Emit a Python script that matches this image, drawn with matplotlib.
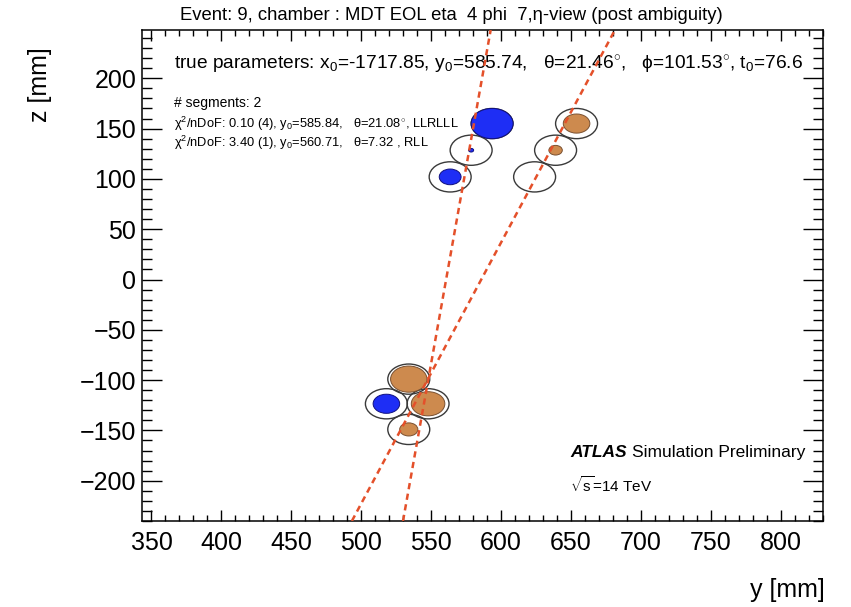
import matplotlib
matplotlib.use('Agg')
import matplotlib.pyplot as plt
from matplotlib.patches import Circle
from matplotlib.ticker import MultipleLocator
import numpy as np

plt.rcParams['font.family'] = ['Liberation Sans', 'DejaVu Sans']
plt.rcParams['mathtext.fontset'] = 'custom'
plt.rcParams['mathtext.rm'] = 'Liberation Sans'
plt.rcParams['mathtext.it'] = 'Liberation Sans:italic'
plt.rcParams['mathtext.bf'] = 'Liberation Sans:bold'

# MDT tube centres (y, z) in mm
tube_y = [563.6, 578.6, 593.6, 624.0, 639.0, 654.0, 518.0, 547.8, 534.0, 534.0]
tube_z = [102.0, 128.5, 155.0, 102.0, 128.5, 155.0, -123.5, -123.5, -99.0, -149.0]
# drift radii of the hits (0 = empty tube)
drift_r = [7.8, 1.8, 15.0, 0.0, 4.8, 9.5, 9.5, 12.0, 13.0, 6.5]
hit_kind = ['b', 'b', 'b', 'o', 'o', 'o', 'b', 'o', 'o', 'o']

# fitted segments
seg_y0 = [585.84, 560.71]
seg_theta = [21.08, 7.32]

xlim = (343, 830)
ylim = (-240, 248)

fig = plt.figure(figsize=(8.51, 6.07), dpi=100)
ax = fig.add_axes([0.1665, 0.1417, 0.8002, 0.8089])

colors = {'b': '#1e2ef5', 'o': '#cd8a4e'}
edges = {'b': '#101080', 'o': '#7a5030'}

for y, z, r, k in zip(tube_y, tube_z, drift_r, hit_kind):
    ax.add_patch(Circle((y, z), 15.0, fill=False, ec='#3a3a3a', lw=1.0, zorder=2))
    if r > 0:
        ax.add_patch(Circle((y, z), r, fc=colors[k], ec=edges[k], lw=0.7, zorder=3))

zz = np.array(ylim)
for y0, th in zip(seg_y0, seg_theta):
    ax.plot(y0 + np.tan(np.radians(th)) * zz, zz, color='#e4502a', lw=1.8,
            dashes=(2.5, 1.8), zorder=4)

ax.set_xlim(*xlim)
ax.set_ylim(*ylim)
ax.xaxis.set_major_locator(MultipleLocator(50))
ax.xaxis.set_minor_locator(MultipleLocator(10))
ax.yaxis.set_major_locator(MultipleLocator(50))
ax.yaxis.set_minor_locator(MultipleLocator(10))
ax.tick_params(which='both', direction='in', top=True, right=True, labelsize=18, width=1.0)
ax.tick_params(axis='x', which='major', length=8, pad=7)
ax.tick_params(axis='x', which='minor', length=4.3)
ax.tick_params(axis='y', which='major', length=14.4, pad=4)
ax.tick_params(axis='y', which='minor', length=7.2)
for s in ax.spines.values():
    s.set_linewidth(1.1)

fig.text(0.5306, 0.975, 'Event: 9, chamber : MDT EOL eta  4 phi  7,η-view (post ambiguity)',
         ha='center', va='center', fontsize=13.3)
fig.text(0.969, 0.028, 'y [mm]', ha='right', va='center', fontsize=18)
fig.text(0.047, 0.86, 'z [mm]', ha='center', va='center', rotation=90, fontsize=18)

ax.text(0.0474, 0.929, 'true parameters: x$_0$=-1717.85, y$_0$=585.74,   θ=21.46$^{\\circ}$,   '
        'ϕ=101.53$^{\\circ}$, t$_0$=76.6', transform=ax.transAxes, va='center', fontsize=13.8)
ax.text(0.0474, 0.8513, '# segments: 2', transform=ax.transAxes, va='center', fontsize=10)
ax.text(0.0474, 0.8086, 'χ$^2$/nDoF: 0.10 (4), y$_0$=585.84,   θ=21.08$^{\\circ}$, LLRLLL',
        transform=ax.transAxes, va='center', fontsize=9.3)
ax.text(0.0474, 0.7699, 'χ$^2$/nDoF: 3.40 (1), y$_0$=560.71,   θ=7.32 , RLL',
        transform=ax.transAxes, va='center', fontsize=9.3)

t_atlas = ax.text(0.6289, 0.1385, 'ATLAS', transform=ax.transAxes, va='center',
                  fontsize=12.5, fontweight='bold', fontstyle='italic')
fig.canvas.draw()
bb = t_atlas.get_window_extent().transformed(ax.transAxes.inverted())
ax.text(bb.x1 + 0.008, 0.1385, 'Simulation Preliminary', transform=ax.transAxes,
        va='center', fontsize=12.5)
ax.text(0.6289, 0.0733, '$\\sqrt{\\mathrm{s}}$=14 TeV', transform=ax.transAxes,
        va='center', fontsize=11)

fig.savefig('out.png', dpi=100)
